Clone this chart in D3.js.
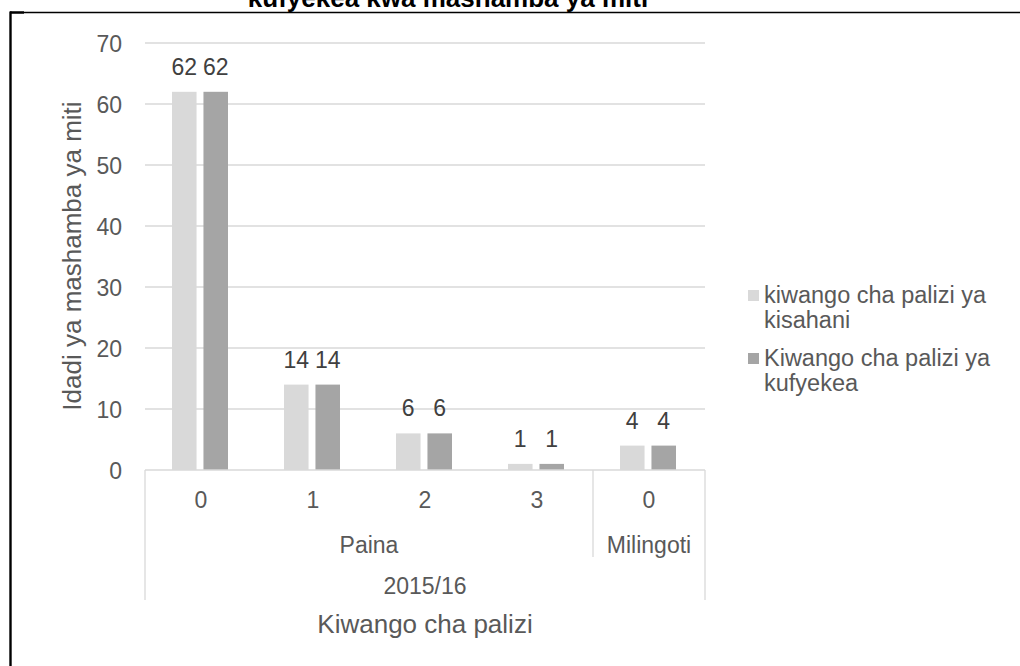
<!DOCTYPE html>
<html>
<head>
<meta charset="utf-8">
<script src="https://cdn.jsdelivr.net/npm/d3@7"></script>
<style>
  html, body { margin: 0; padding: 0; background: #ffffff; }
  svg { display: block; font-family: "Liberation Sans", Arial, sans-serif; }
</style>
</head>
<body>
<svg id="chart" width="1020" height="666"></svg>
<script>
// Weeding levels, grouped by tree type and season
const levels = ["0", "1", "2", "3", "0"];
const treeTypes = ["Paina", "Paina", "Paina", "Paina", "Milingoti"];
const seasons = ["2015/16"];
const seriesNames = ["kiwango cha palizi ya kisahani", "Kiwango cha palizi ya kufyekea"];
const legendLines = [["kiwango cha palizi ya", "kisahani"], ["Kiwango cha palizi ya", "kufyekea"]];
const kisahani = [62, 14, 6, 1, 4];
const kufyekea = [62, 14, 6, 1, 4];
const yTicks = [0, 10, 20, 30, 40, 50, 60, 70];

const colors = ["#d9d9d9", "#a5a5a5"];
const gridColor = "#d9d9d9";
const labelColor = "#595959";

const svg = d3.select("#chart");

const keys = levels.map((l, i) => treeTypes[i] + "|" + l + "|" + i);
const series = [kisahani, kufyekea];

const x = d3.scaleBand().domain(keys).range([145, 705]).padding(0);
const xSub = d3.scaleBand().domain([0, 1]).range([27, 83]).paddingInner(0.22);
const y = d3.scaleLinear().domain([0, 70]).range([470, 43]);

// Title (runs past the top edge of the frame)
svg.append("text")
  .attr("x", 448).attr("y", 7)
  .attr("text-anchor", "middle")
  .attr("font-size", 26).attr("font-weight", "bold").attr("fill", "#000")
  .text("kufyekea kwa mashamba ya miti");

// Outer frame
svg.append("line").attr("x1", 10).attr("x2", 1020).attr("y1", 12.5).attr("y2", 12.5)
  .attr("stroke", "#000").attr("stroke-width", 1.3);
svg.append("line").attr("x1", 10).attr("x2", 24).attr("y1", 12.5).attr("y2", 12.5)
  .attr("stroke", "#000").attr("stroke-width", 2.4);
svg.append("line").attr("x1", 10.5).attr("x2", 10.5).attr("y1", 11.5).attr("y2", 666)
  .attr("stroke", "#000").attr("stroke-width", 2.4);

// Horizontal gridlines
svg.append("g").selectAll("line").data(yTicks.filter(d => d > 0)).join("line")
  .attr("x1", 145).attr("x2", 705)
  .attr("y1", d => y(d)).attr("y2", d => y(d))
  .attr("stroke", gridColor).attr("stroke-width", 1.3);

// Y axis labels
const yAxis = d3.axisLeft(y).tickValues(yTicks).tickSize(0).tickPadding(0).tickFormat(d3.format("d"));
const yg = svg.append("g").attr("transform", "translate(122,0)").call(yAxis);
yg.select(".domain").remove();
yg.selectAll("text").attr("font-size", 23).attr("fill", labelColor)
  .attr("font-family", "'Liberation Sans', Arial, sans-serif").attr("dy", "0.35em");

// Bars with value labels
series.forEach((vals, s) => {
  svg.append("g").selectAll("rect").data(vals).join("rect")
    .attr("x", (d, i) => x(keys[i]) + xSub(s))
    .attr("width", xSub.bandwidth())
    .attr("y", d => y(d))
    .attr("height", d => y(0) - y(d))
    .attr("fill", colors[s]);
  svg.append("g").selectAll("text").data(vals).join("text")
    .attr("x", (d, i) => x(keys[i]) + xSub(s) + xSub.bandwidth() / 2)
    .attr("y", d => y(d) - 17)
    .attr("text-anchor", "middle")
    .attr("font-size", 23).attr("fill", "#404040")
    .text(d => d);
});

// Category axis: baseline and group separators
const axisG = svg.append("g").attr("stroke", gridColor).attr("stroke-width", 1.3);
axisG.append("line").attr("x1", 145).attr("x2", 705).attr("y1", y(0)).attr("y2", y(0));
const left = x.range()[0], right = x.range()[1];
axisG.append("line").attr("x1", left).attr("x2", left).attr("y1", y(0)).attr("y2", 600);
axisG.append("line").attr("x1", right).attr("x2", right).attr("y1", y(0)).attr("y2", 600);

// Tree-type spans
const typeNames = Array.from(new Set(treeTypes));
const typeSpans = typeNames.map(t => {
  const idx = keys.filter((k, i) => treeTypes[i] === t);
  return { name: t, x0: x(idx[0]), x1: x(idx[idx.length - 1]) + x.bandwidth() };
});
typeSpans.slice(1).forEach(sp => {
  axisG.append("line").attr("x1", sp.x0).attr("x2", sp.x0).attr("y1", y(0)).attr("y2", 557);
});

// Level tick labels
svg.append("g").selectAll("text").data(levels).join("text")
  .attr("x", (d, i) => x(keys[i]) + x.bandwidth() / 2)
  .attr("y", 508)
  .attr("text-anchor", "middle").attr("font-size", 23).attr("fill", labelColor)
  .text(d => d);

// Tree-type labels
svg.append("g").selectAll("text").data(typeSpans).join("text")
  .attr("x", d => (d.x0 + d.x1) / 2).attr("y", 553)
  .attr("text-anchor", "middle").attr("font-size", 23).attr("fill", labelColor)
  .text(d => d.name);

// Season label
svg.append("text").attr("x", (left + right) / 2).attr("y", 594)
  .attr("text-anchor", "middle").attr("font-size", 23).attr("fill", labelColor)
  .text(seasons[0]);

// Axis titles
svg.append("text").attr("x", (left + right) / 2).attr("y", 633)
  .attr("text-anchor", "middle").attr("font-size", 26).attr("fill", labelColor)
  .text("Kiwango cha palizi");
svg.append("text").attr("transform", "translate(81,256) rotate(-90)")
  .attr("text-anchor", "middle").attr("font-size", 26).attr("fill", labelColor)
  .text("Idadi ya mashamba ya miti");

// Legend
const legendTop = [303, 366];
seriesNames.forEach((name, s) => {
  const g = svg.append("g");
  g.append("rect").attr("x", 748).attr("y", legendTop[s] - 13).attr("width", 11).attr("height", 11)
    .attr("fill", colors[s]);
  legendLines[s].forEach((line, j) => {
    g.append("text").attr("x", 764).attr("y", legendTop[s] + j * 25)
      .attr("font-size", 23.5).attr("fill", labelColor).text(line);
  });
});
</script>
</body>
</html>
